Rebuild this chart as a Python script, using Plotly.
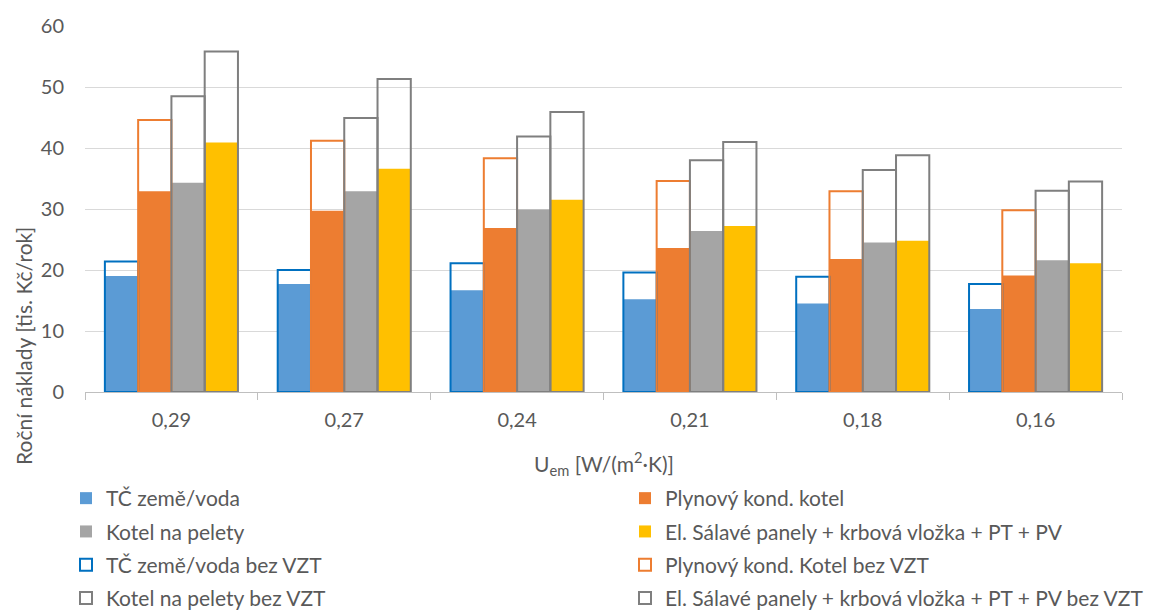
import plotly.graph_objects as go

# Roční náklady na vytápění podle součinitele prostupu tepla U_em
categories = ["0,29", "0,27", "0,24", "0,21", "0,18", "0,16"]

tc_zeme_voda = [19.0, 17.7, 16.7, 15.2, 14.5, 13.6]
plyn_kotel = [32.9, 29.7, 26.9, 23.6, 21.8, 19.1]
kotel_pelety = [34.3, 32.9, 29.9, 26.4, 24.5, 21.6]
el_panely = [40.9, 36.6, 31.5, 27.2, 24.8, 21.1]

tc_zeme_voda_bez_vzt = [21.4, 20.0, 21.1, 19.6, 18.9, 17.7]
plyn_kotel_bez_vzt = [44.6, 41.2, 38.3, 34.6, 32.9, 29.8]
kotel_pelety_bez_vzt = [48.5, 44.9, 41.9, 38.0, 36.4, 33.0]
el_panely_bez_vzt = [55.8, 51.3, 45.9, 41.0, 38.8, 34.5]

W, H = 1165, 615
FONT = "Lato"
TEXT = "#595959"

filled = [
    ("TČ země/voda", tc_zeme_voda, "#5B9BD5", "g1", "legend", 1),
    ("Plynový kond. kotel", plyn_kotel, "#ED7D31", "g2", "legend2", 1),
    ("Kotel na pelety", kotel_pelety, "#A5A5A5", "g3", "legend", 2),
    ("El. Sálavé panely + krbová vložka + PT + PV", el_panely, "#FFC000", "g4", "legend2", 2),
]
outlined = [
    ("TČ země/voda bez VZT", tc_zeme_voda_bez_vzt, "#0070C0", "g1", "legend", 3),
    ("Plynový kond. Kotel bez VZT", plyn_kotel_bez_vzt, "#ED7D31", "g2", "legend2", 3),
    ("Kotel na pelety bez VZT", kotel_pelety_bez_vzt, "#7F7F7F", "g3", "legend", 4),
    ("El. Sálavé panely + krbová vložka + PT + PV bez VZT", el_panely_bez_vzt, "#7F7F7F", "g4", "legend2", 4),
]

fig = go.Figure()

for name, vals, color, grp, leg, rank in filled:
    fig.add_trace(go.Bar(
        x=categories, y=vals, name=name, offsetgroup=grp,
        marker=dict(color=color, line=dict(width=0)),
        legend=leg, legendrank=rank, legendgroup=name,
    ))

# outlined bars drawn on top with transparent fill
for name, vals, color, grp, leg, rank in outlined:
    fig.add_trace(go.Bar(
        x=categories, y=vals, name=name, offsetgroup=grp,
        marker=dict(color="rgba(255,255,255,0)", line=dict(color=color, width=2)),
        legend=leg, legendrank=rank, legendgroup=name,
    ))

L, R, T, B = 85, 43, 26, 223
plot_h = H - T - B

legend_common = dict(
    xref="container", yref="container", xanchor="left", yanchor="top",
    orientation="v", tracegroupgap=3, bgcolor="rgba(0,0,0,0)",
    font=dict(family=FONT, size=21, color=TEXT), traceorder="grouped",
)

fig.update_layout(
    width=W, height=H,
    margin=dict(l=L, r=R, t=T, b=B, autoexpand=False),
    paper_bgcolor="white", plot_bgcolor="white",
    barmode="group", bargap=0.23, bargroupgap=0,
    font=dict(family=FONT, size=20, color=TEXT),
    showlegend=True,
    legend=dict(x=66 / W, y=1 - 478 / H, **legend_common),
    legend2=dict(x=625 / W, y=1 - 478 / H, **legend_common),
    xaxis=dict(
        type="category", showgrid=False, automargin=False, tickangle=0,
        showline=True, linecolor="#BFBFBF", linewidth=1,
        ticks="outside", tickson="boundaries", ticklen=7, tickcolor="#BFBFBF",
        tickfont=dict(family=FONT, size=20, color=TEXT),
        ticklabelstandoff=10,
    ),
    yaxis=dict(
        range=[0, 60], dtick=10, showgrid=True, gridcolor="#D9D9D9", gridwidth=1,
        showline=False, zeroline=False, ticks="", automargin=False,
        tickfont=dict(family=FONT, size=20, color=TEXT),
        ticklabelstandoff=20,
    ),
    annotations=[
        dict(text="U<sub>em</sub> [W/(m<sup>2</sup>·K)]", xref="paper", yref="paper",
             x=0.5, y=-(463 - (T + plot_h)) / plot_h, showarrow=False,
             font=dict(family=FONT, size=21, color=TEXT), xanchor="center", yanchor="middle"),
        dict(text="Roční náklady [tis. Kč/rok]", xref="paper", yref="paper",
             x=-(L - 23) / (W - L - R), y=-(346 - (T + plot_h)) / plot_h, textangle=-90,
             showarrow=False, font=dict(family=FONT, size=21, color=TEXT),
             xanchor="center", yanchor="middle"),
    ],
)

fig.write_html("out.html")
